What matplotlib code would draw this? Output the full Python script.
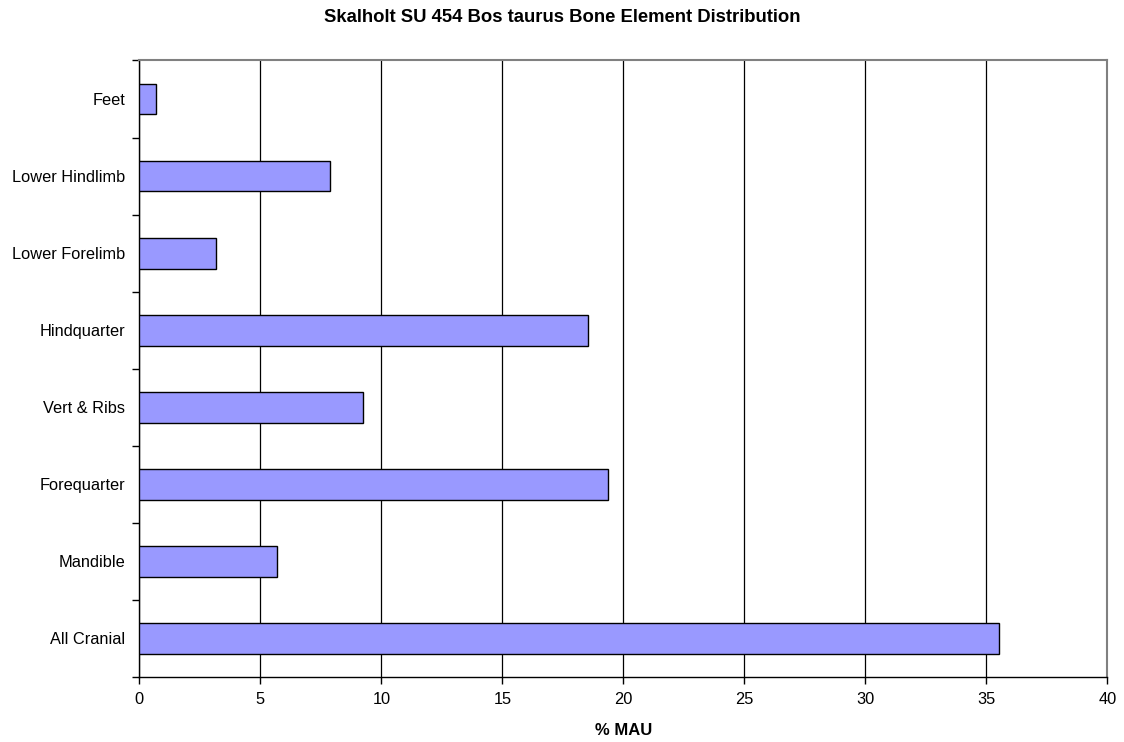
import matplotlib
matplotlib.use("Agg")
import matplotlib.pyplot as plt
import numpy as np

categories = ["All Cranial", "Mandible", "Forequarter", "Vert & Ribs",
              "Hindquarter", "Lower Forelimb", "Lower Hindlimb", "Feet"]
mau_percent = [35.51, 5.70, 19.36, 9.26, 18.53, 3.16, 7.87, 0.69]
x_ticks = [0, 5, 10, 15, 20, 25, 30, 35, 40]

plt.rcParams["font.family"] = ["Liberation Sans", "DejaVu Sans"]

fig = plt.figure(figsize=(11.24, 7.42), dpi=100)
ax = fig.add_axes([0.1239, 0.0876, 0.9853 - 0.1239, 0.9185 - 0.0876])

y = np.arange(len(categories))
ax.barh(y, mau_percent, height=0.4, color="#9999FF", edgecolor="black",
        linewidth=1.0, zorder=3)

ax.set_xlim(0, 40)
ax.set_ylim(-0.5, len(categories) - 0.5)

ax.set_xticks(x_ticks)
ax.set_xticklabels([str(t) for t in x_ticks], fontsize=11.8)
ax.xaxis.grid(True, color="black", linewidth=0.9, zorder=0)
ax.set_axisbelow(True)

ax.set_yticks(y)
ax.set_yticklabels(categories, fontsize=11.8)
ax.set_yticks(np.arange(-0.5, len(categories)), minor=True)
ax.tick_params(axis="y", which="major", length=0, pad=10)
ax.tick_params(axis="y", which="minor", length=5, width=1, direction="out")
ax.tick_params(axis="x", which="major", length=5, width=1, direction="out", pad=6)

for side in ("left", "bottom"):
    ax.spines[side].set_color("black")
    ax.spines[side].set_linewidth(1.0)
for side in ("top", "right"):
    ax.spines[side].set_color("#808080")
    ax.spines[side].set_linewidth(1.5)

ax.set_xlabel("% MAU", fontsize=12, fontweight="bold", labelpad=11)
fig.text(0.5, 1 - 18 / 742, "Skalholt SU 454 Bos taurus Bone Element Distribution",
         ha="center", va="center", fontsize=13.3, fontweight="bold")

fig.savefig("out.png", dpi=100, facecolor="white")
